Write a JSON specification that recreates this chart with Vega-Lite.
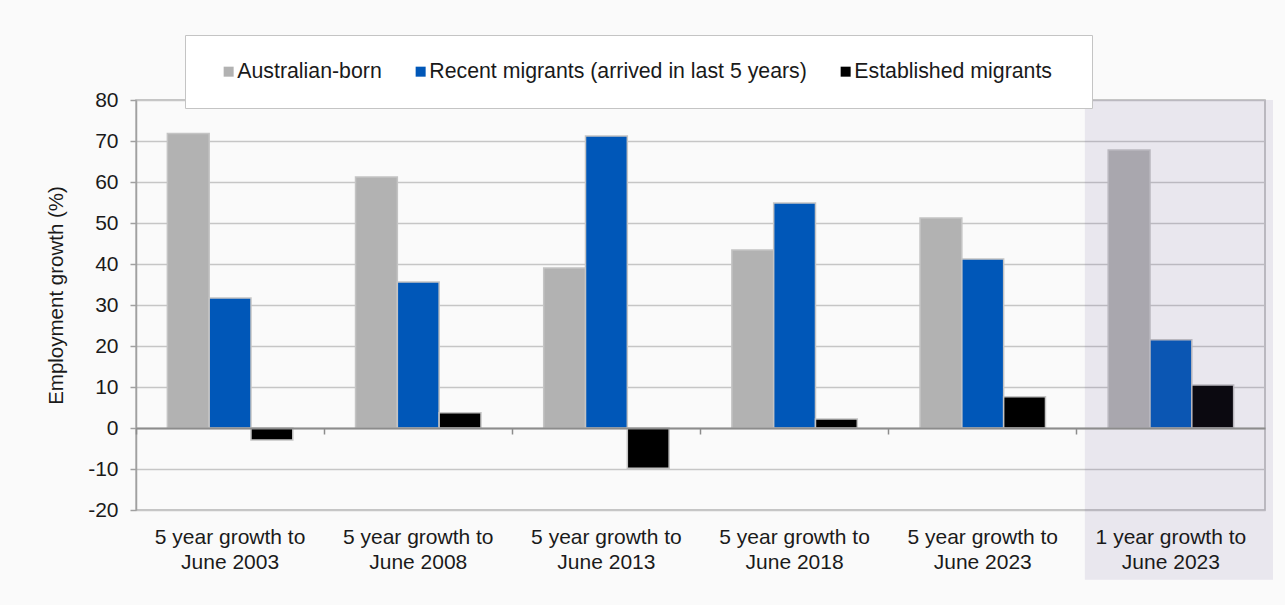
{
  "$schema": "https://vega.github.io/schema/vega-lite/v6.json",
  "autosize": {"type": "none"},
  "width": 1129,
  "height": 410,
  "padding": {"left": 136, "top": 100, "right": 20, "bottom": 95},
  "background": "#fafafa",
  "config": {
    "font": "Liberation Sans",
    "view": {"stroke": "#b4b4b4", "strokeWidth": 1.5}
  },
  "datasets": {
    "growth": [
      {"category": "5 year growth to June 2003", "series": "Australian-born", "value": 71.8},
      {"category": "5 year growth to June 2003", "series": "Recent migrants (arrived in last 5 years)", "value": 31.7},
      {"category": "5 year growth to June 2003", "series": "Established migrants", "value": -2.9},
      {"category": "5 year growth to June 2008", "series": "Australian-born", "value": 61.2},
      {"category": "5 year growth to June 2008", "series": "Recent migrants (arrived in last 5 years)", "value": 35.6},
      {"category": "5 year growth to June 2008", "series": "Established migrants", "value": 3.7},
      {"category": "5 year growth to June 2013", "series": "Australian-born", "value": 39.0},
      {"category": "5 year growth to June 2013", "series": "Recent migrants (arrived in last 5 years)", "value": 71.2},
      {"category": "5 year growth to June 2013", "series": "Established migrants", "value": -9.8},
      {"category": "5 year growth to June 2018", "series": "Australian-born", "value": 43.4},
      {"category": "5 year growth to June 2018", "series": "Recent migrants (arrived in last 5 years)", "value": 54.9},
      {"category": "5 year growth to June 2018", "series": "Established migrants", "value": 2.2},
      {"category": "5 year growth to June 2023", "series": "Australian-born", "value": 51.2},
      {"category": "5 year growth to June 2023", "series": "Recent migrants (arrived in last 5 years)", "value": 41.2},
      {"category": "5 year growth to June 2023", "series": "Established migrants", "value": 7.6},
      {"category": "1 year growth to June 2023", "series": "Australian-born", "value": 67.8},
      {"category": "1 year growth to June 2023", "series": "Recent migrants (arrived in last 5 years)", "value": 21.5},
      {"category": "1 year growth to June 2023", "series": "Established migrants", "value": 10.5}
    ],
    "highlight": [
      {"category": "1 year growth to June 2023", "top": 80, "bottom": -37}
    ]
  },
  "layer": [
    {
      "data": {"name": "growth"},
      "mark": {"type": "bar", "stroke": "#c4c4c4", "strokeWidth": 1.5},
      "encoding": {
        "x": {
          "field": "category",
          "type": "nominal",
          "sort": null,
          "scale": {"paddingInner": 0, "paddingOuter": 0},
          "axis": {
            "title": null,
            "zindex": 1,
            "offset": -82,
            "bandPosition": 0,
            "labelAngle": 0,
            "labelFontSize": 21,
            "labelColor": "#1a1a1a",
            "labelLineHeight": 25,
            "labelPadding": 92,
            "labelExpr": "[substring(datum.label, 0, indexof(datum.label, ' June')), substring(datum.label, indexof(datum.label, 'June'))]",
            "domainColor": "#8c8c8c",
            "domainWidth": 2,
            "tickColor": "#8c8c8c",
            "tickWidth": 1.5,
            "tickSize": 6
          }
        },
        "xOffset": {
          "field": "series",
          "sort": ["Australian-born", "Recent migrants (arrived in last 5 years)", "Established migrants"],
          "scale": {"paddingOuter": 0.75, "paddingInner": 0}
        },
        "y": {
          "field": "value",
          "type": "quantitative",
          "scale": {"domain": [-20, 80], "nice": false, "zero": false},
          "axis": {
            "title": "Employment growth (%)",
            "titleFontSize": 20.5,
            "titleFontWeight": "normal",
            "titleColor": "#1a1a1a",
            "titlePadding": 21,
            "titleY": 195,
            "values": [-20, -10, 0, 10, 20, 30, 40, 50, 60, 70, 80],
            "labelExpr": "toString(datum.value)",
            "labelFontSize": 21,
            "labelColor": "#1a1a1a",
            "labelPadding": 12,
            "tickSize": 6,
            "tickColor": "#a0a0a0",
            "tickWidth": 1.5,
            "domainColor": "#a0a0a0",
            "domainWidth": 1.5,
            "gridColor": "#c6c6c6",
            "gridWidth": 1.5
          }
        },
        "color": {
          "field": "series",
          "type": "nominal",
          "scale": {
            "domain": ["Australian-born", "Recent migrants (arrived in last 5 years)", "Established migrants"],
            "range": ["#b2b2b2", "#0057b8", "#000000"]
          },
          "legend": {
            "title": " ",
            "titleOrient": "right",
            "titlePadding": 14,
            "titleFontSize": 21,
            "orient": "none",
            "legendX": 49,
            "legendY": -65,
            "direction": "horizontal",
            "fillColor": "#ffffff",
            "strokeColor": "#c4c4c4",
            "padding": 26,
            "symbolType": "square",
            "symbolSize": 100,
            "symbolStrokeWidth": 0,
            "symbolOffset": 7,
            "labelFontSize": 21.3,
            "labelColor": "#1a1a1a",
            "labelOffset": -2,
            "labelLimit": 600,
            "columnPadding": 21
          }
        }
      }
    },
    {
      "data": {"name": "highlight"},
      "mark": {"type": "rect", "color": "#614f8e", "opacity": 0.11, "xOffset": 8, "x2Offset": 5},
      "encoding": {
        "x": {"field": "category", "type": "nominal", "sort": null},
        "y": {"field": "top", "type": "quantitative"},
        "y2": {"field": "bottom"}
      }
    }
  ]
}
